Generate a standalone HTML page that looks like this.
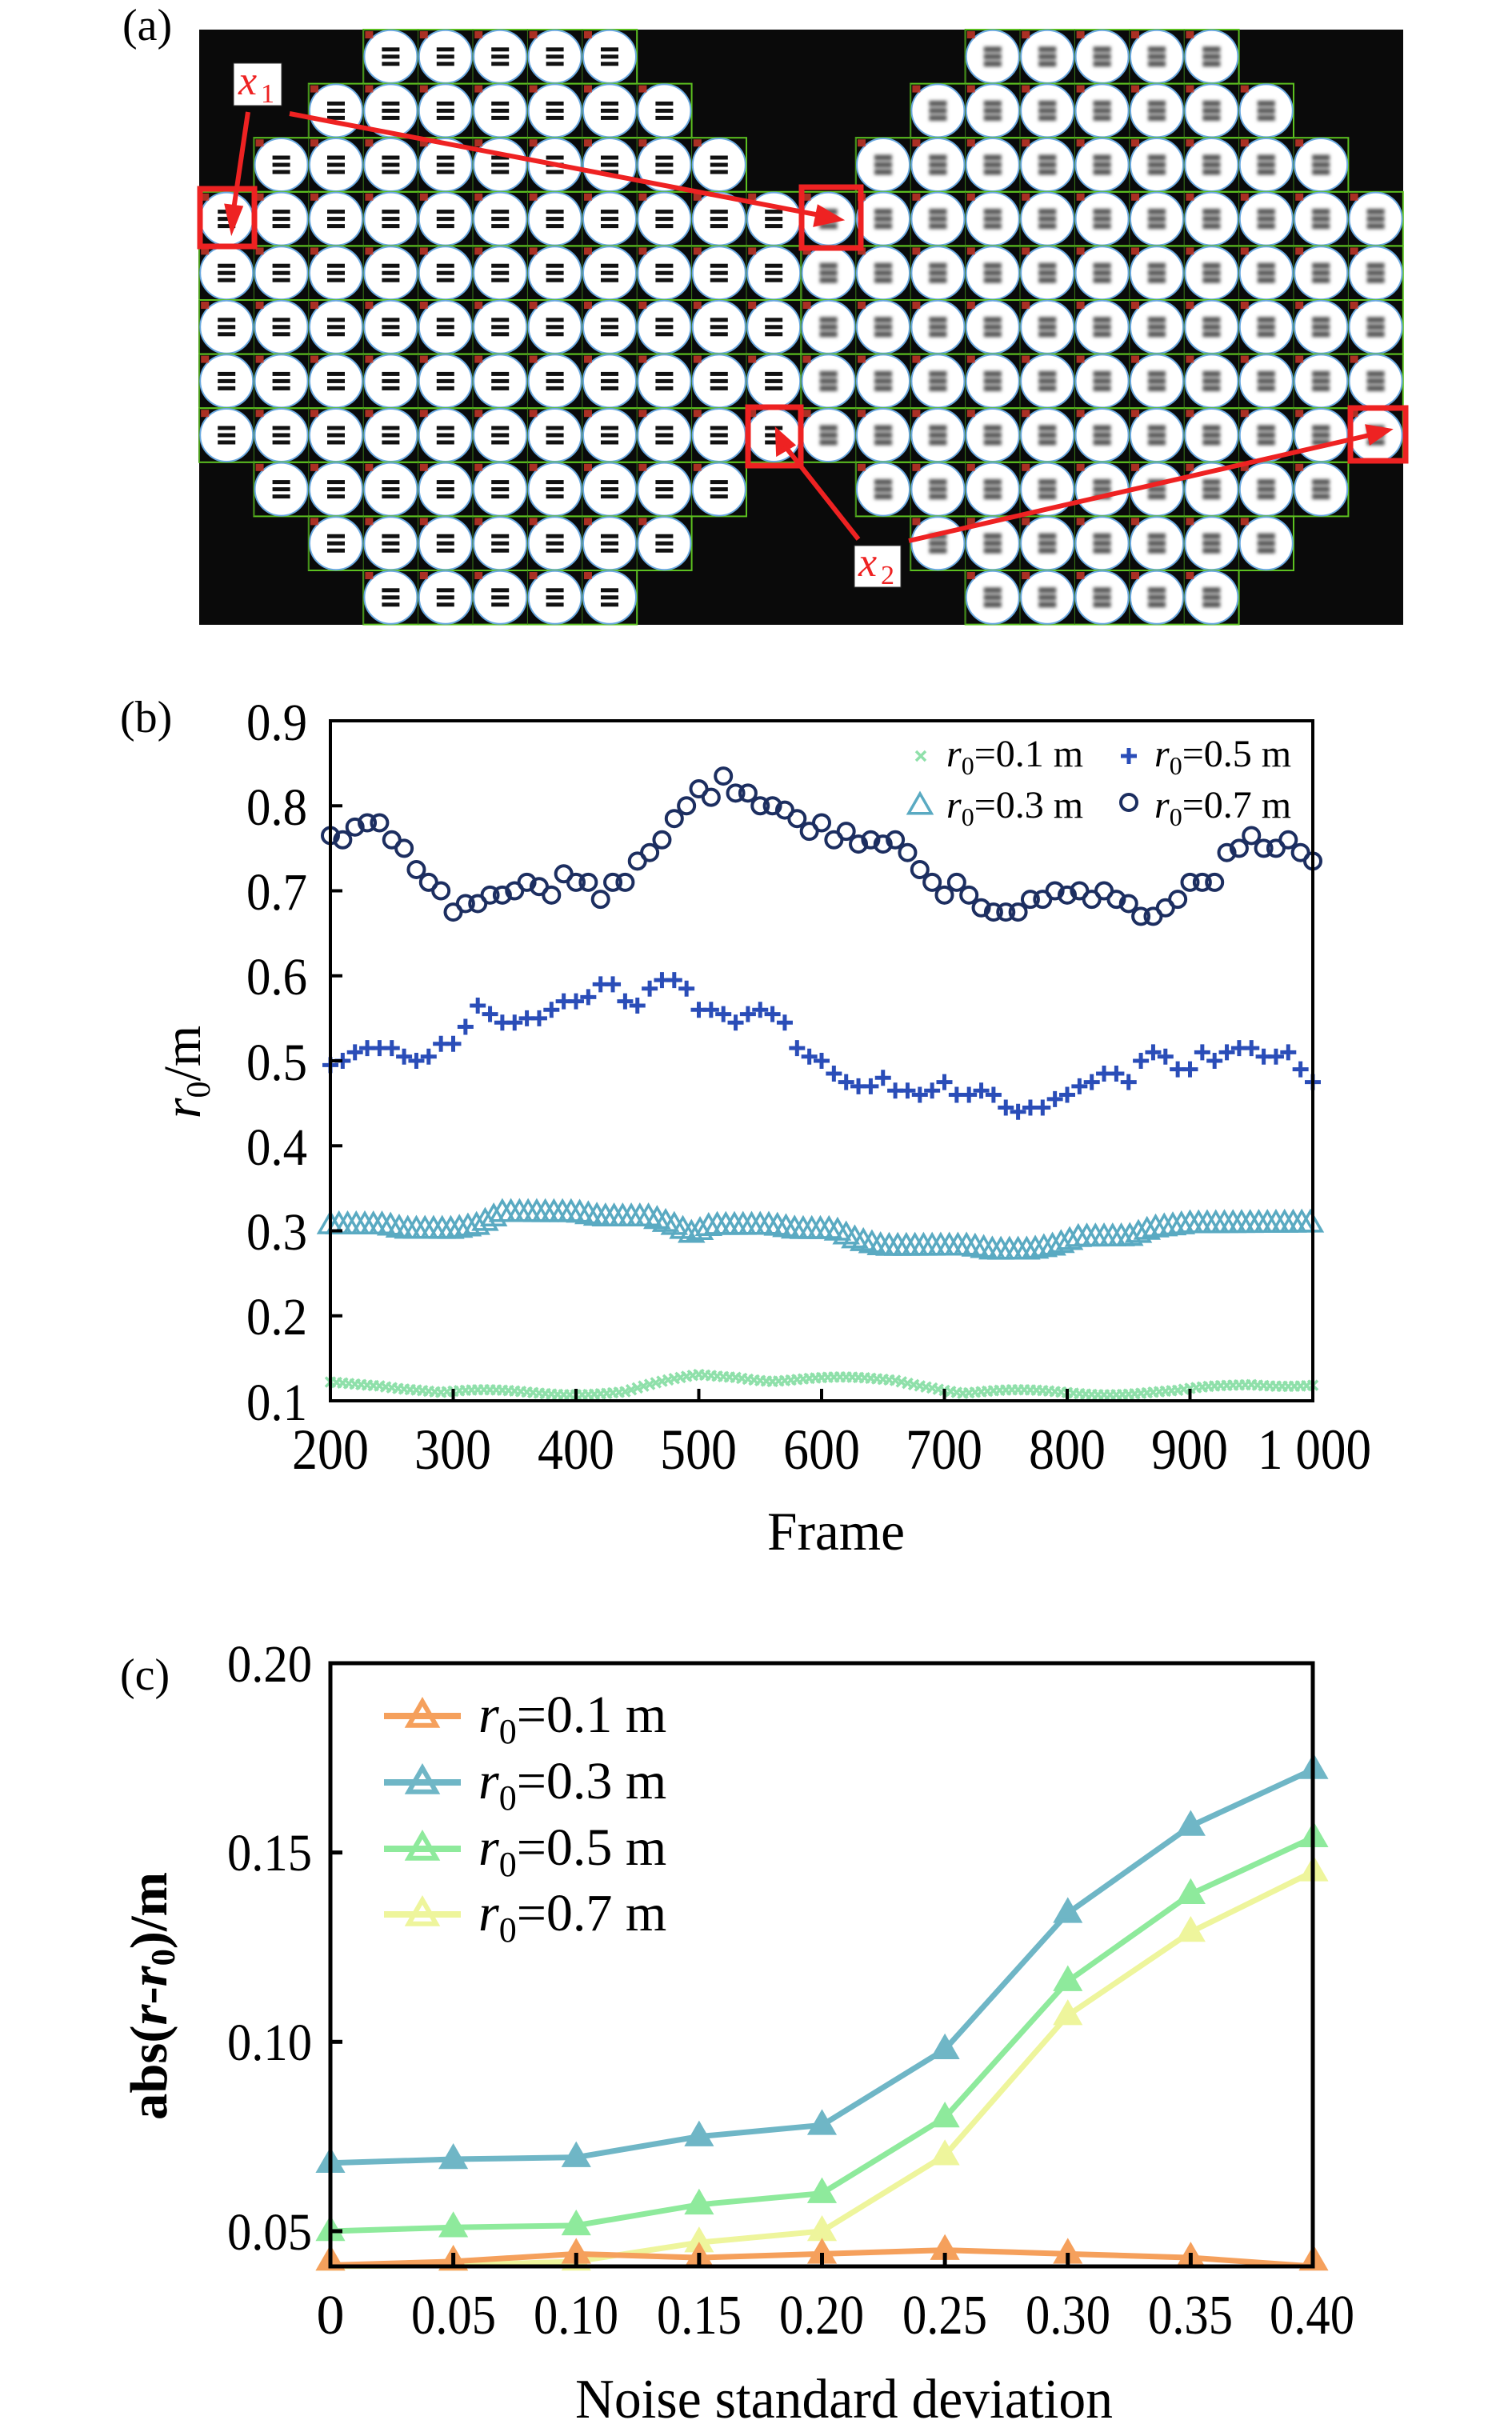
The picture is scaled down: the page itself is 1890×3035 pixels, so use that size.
<!DOCTYPE html>
<html><head><meta charset="utf-8">
<style>
html,body{margin:0;padding:0;background:#fff;}
svg{display:block;}
text{font-family:"Liberation Serif",serif;}
</style></head>
<body>
<svg id="s" width="1890" height="3035" viewBox="0 0 1890 3035" xmlns="http://www.w3.org/2000/svg">
<defs>
<filter id="bl" x="-50%" y="-50%" width="200%" height="200%"><feGaussianBlur stdDeviation="2.2"/></filter>
</defs>
<!-- Panel a -->
<text x="153" y="50" font-size="56">(a)</text>
<rect x="249" y="37" width="1505" height="744" fill="#0a0a0a"/>
<g id="cells"></g>
<g stroke="#ee2222" fill="none" stroke-width="7">
<rect x="250" y="236" width="68" height="72"/>
<rect x="1002" y="234" width="74" height="76"/>
<rect x="935" y="509" width="66" height="73"/>
<rect x="1688" y="510" width="69" height="66"/>
</g>
<g stroke="#ee2222" stroke-width="6" fill="#ee2222">
<line x1="310" y1="140" x2="292" y2="262"/>
<polygon points="284,258 300,260 290,285"/>
<line x1="362" y1="142" x2="1030" y2="270"/>
<polygon points="1024,260 1020,280 1048,274"/>
<line x1="1073" y1="674" x2="983" y2="560"/>
<polygon points="973,566 990,556 972,540"/>
<line x1="1136" y1="676" x2="1716" y2="543"/>
<polygon points="1710,534 1714,552 1734,538"/>
</g>
<rect x="292" y="79" width="60" height="53" fill="#fff" stroke="#333" stroke-width="1"/>
<text x="298" y="118" font-size="52" font-style="italic" fill="#ee2222">x</text>
<text x="326" y="128" font-size="34" fill="#ee2222">1</text>
<rect x="1068" y="682" width="58" height="52" fill="#fff" stroke="#333" stroke-width="1"/>
<text x="1073" y="720" font-size="52" font-style="italic" fill="#ee2222">x</text>
<text x="1101" y="730" font-size="34" fill="#ee2222">2</text>

<!-- Panel b -->
<text x="150" y="915" font-size="56">(b)</text>
<g font-size="66" text-anchor="end">
<text x="384" y="925" textLength="76" lengthAdjust="spacingAndGlyphs">0.9</text>
<text x="384" y="1031" textLength="76" lengthAdjust="spacingAndGlyphs">0.8</text>
<text x="384" y="1137" textLength="76" lengthAdjust="spacingAndGlyphs">0.7</text>
<text x="384" y="1243" textLength="76" lengthAdjust="spacingAndGlyphs">0.6</text>
<text x="384" y="1350" textLength="76" lengthAdjust="spacingAndGlyphs">0.5</text>
<text x="384" y="1456" textLength="76" lengthAdjust="spacingAndGlyphs">0.4</text>
<text x="384" y="1562" textLength="76" lengthAdjust="spacingAndGlyphs">0.3</text>
<text x="384" y="1668" textLength="76" lengthAdjust="spacingAndGlyphs">0.2</text>
<text x="384" y="1775" textLength="76" lengthAdjust="spacingAndGlyphs">0.1</text>
</g>
<g font-size="72" text-anchor="middle">
<text x="413" y="1836" textLength="96" lengthAdjust="spacingAndGlyphs">200</text>
<text x="566" y="1836" textLength="96" lengthAdjust="spacingAndGlyphs">300</text>
<text x="720" y="1836" textLength="96" lengthAdjust="spacingAndGlyphs">400</text>
<text x="873" y="1836" textLength="96" lengthAdjust="spacingAndGlyphs">500</text>
<text x="1027" y="1836" textLength="96" lengthAdjust="spacingAndGlyphs">600</text>
<text x="1180" y="1836" textLength="96" lengthAdjust="spacingAndGlyphs">700</text>
<text x="1334" y="1836" textLength="96" lengthAdjust="spacingAndGlyphs">800</text>
<text x="1487" y="1836" textLength="96" lengthAdjust="spacingAndGlyphs">900</text>
<text x="1643" y="1836" textLength="142" lengthAdjust="spacingAndGlyphs">1 000</text>
</g>
<text x="1045" y="1937" font-size="68" text-anchor="middle" textLength="172" lengthAdjust="spacingAndGlyphs">Frame</text>
<g transform="translate(250,1340) rotate(-90)">
<text x="0" y="0" font-size="66" text-anchor="middle"><tspan font-style="italic">r</tspan><tspan font-size="42" dy="12">0</tspan><tspan dy="-12">/m</tspan></text>
</g>
<g id="bdata"></g>
<rect x="413" y="901" width="1228" height="850" stroke="#000" stroke-width="4" fill="none"/>
<g id="bticks" stroke="#000" stroke-width="4"></g>
<g font-size="48">
<text x="1183" y="958"><tspan font-style="italic">r</tspan><tspan font-size="32" dy="10">0</tspan><tspan dy="-10">=0.1 m</tspan></text>
<text x="1443" y="958"><tspan font-style="italic">r</tspan><tspan font-size="32" dy="10">0</tspan><tspan dy="-10">=0.5 m</tspan></text>
<text x="1183" y="1022"><tspan font-style="italic">r</tspan><tspan font-size="32" dy="10">0</tspan><tspan dy="-10">=0.3 m</tspan></text>
<text x="1443" y="1022"><tspan font-style="italic">r</tspan><tspan font-size="32" dy="10">0</tspan><tspan dy="-10">=0.7 m</tspan></text>
</g>
<g id="bleg"></g>

<!-- Panel c -->
<text x="150" y="2112" font-size="56">(c)</text>
<g font-size="66" text-anchor="end">
<text x="390" y="2102" textLength="106" lengthAdjust="spacingAndGlyphs">0.20</text>
<text x="390" y="2338" textLength="106" lengthAdjust="spacingAndGlyphs">0.15</text>
<text x="390" y="2575" textLength="106" lengthAdjust="spacingAndGlyphs">0.10</text>
<text x="390" y="2812" textLength="106" lengthAdjust="spacingAndGlyphs">0.05</text>
</g>
<g font-size="70" text-anchor="middle">
<text x="413" y="2917">0</text>
<text x="567" y="2917" textLength="106" lengthAdjust="spacingAndGlyphs">0.05</text>
<text x="720" y="2917" textLength="106" lengthAdjust="spacingAndGlyphs">0.10</text>
<text x="874" y="2917" textLength="106" lengthAdjust="spacingAndGlyphs">0.15</text>
<text x="1027" y="2917" textLength="106" lengthAdjust="spacingAndGlyphs">0.20</text>
<text x="1181" y="2917" textLength="106" lengthAdjust="spacingAndGlyphs">0.25</text>
<text x="1335" y="2917" textLength="106" lengthAdjust="spacingAndGlyphs">0.30</text>
<text x="1488" y="2917" textLength="106" lengthAdjust="spacingAndGlyphs">0.35</text>
<text x="1640" y="2917" textLength="106" lengthAdjust="spacingAndGlyphs">0.40</text>
</g>
<text x="1055" y="3022" font-size="70" text-anchor="middle" textLength="672" lengthAdjust="spacingAndGlyphs">Noise standard deviation</text>
<g transform="translate(208,2495) rotate(-90)">
<text x="0" y="0" font-size="66" font-weight="bold" text-anchor="middle" textLength="310" lengthAdjust="spacingAndGlyphs">abs(<tspan font-style="italic">r</tspan>-<tspan font-style="italic">r</tspan><tspan font-size="42" dy="10">0</tspan><tspan dy="-10">)/m</tspan></text>
</g>
<g id="cdata"></g>
<rect x="413" y="2079" width="1228" height="754" stroke="#000" stroke-width="5" fill="none"/>
<g id="cticks" stroke="#000" stroke-width="5"></g>
<g font-size="66">
<text x="598" y="2165"><tspan font-style="italic">r</tspan><tspan font-size="44" dy="14">0</tspan><tspan dy="-14">=0.1 m</tspan></text>
<text x="598" y="2248"><tspan font-style="italic">r</tspan><tspan font-size="44" dy="14">0</tspan><tspan dy="-14">=0.3 m</tspan></text>
<text x="598" y="2331"><tspan font-style="italic">r</tspan><tspan font-size="44" dy="14">0</tspan><tspan dy="-14">=0.5 m</tspan></text>
<text x="598" y="2413"><tspan font-style="italic">r</tspan><tspan font-size="44" dy="14">0</tspan><tspan dy="-14">=0.7 m</tspan></text>
</g>
<g id="cleg"></g>
</svg>
<script>
var NS="http://www.w3.org/2000/svg";
function el(p,t,a){var e=document.createElementNS(NS,t);for(var k in a)e.setAttribute(k,a[k]);p.appendChild(e);return e;}
var cells=document.getElementById('cells');
var rows=[[[3,7],[14,18]],[[2,8],[13,19]],[[1,9],[12,20]],[[0,10],[11,21]],[[0,10],[11,21]],[[0,10],[11,21]],[[0,10],[11,21]],[[0,10],[11,21]],[[1,9],[12,20]],[[2,8],[13,19]],[[3,7],[14,18]]];
var CW=68.4;
rows.forEach(function(r,ri){
  r.forEach(function(rg,bi){
    var x0=249+rg[0]*CW, w=(rg[1]-rg[0]+1)*CW, y0=37+ri*67.6;
    el(cells,'rect',{x:x0,y:y0,width:w,height:67.6,fill:'none',stroke:'#5cc020','stroke-width':2});
    for(var c=rg[0];c<=rg[1];c++){
      var cx=249+CW/2+CW*c, cy=y0+33.8;
      el(cells,'line',{x1:cx-CW/2,y1:y0,x2:cx-CW/2,y2:y0+67.6,stroke:'#3a7a18','stroke-width':1});
      el(cells,'circle',{cx:cx,cy:cy,r:33,fill:'#fff',stroke:'#6aa8e0','stroke-width':2});
      var g=el(cells,'g',bi==1?{filter:'url(#bl)'}:{});
      var col=bi==1?'#555':'#111';
      var bh=bi==1?7:5;
      for(var k=-1;k<=1;k++) el(g,'rect',{x:cx-11,y:cy+k*9-bh/2,width:22,height:bh,fill:col});
      el(cells,'rect',{x:cx-32,y:y0+2,width:10,height:9,fill:'#d23a2a',opacity:0.8});
    }
  });
});
function bx(f){return 413+(f-200)*1.535;}
function by(v){return 901+(0.9-v)*1062.5;}
var circ=[0.765,0.76,0.775,0.78,0.78,0.76,0.75,0.725,0.71,0.70,0.675,0.685,0.685,0.695,0.695,0.70,0.71,0.705,0.695,0.72,0.71,0.71,0.69,0.71,0.71,0.735,0.745,0.76,0.785,0.80,0.82,0.81,0.835,0.815,0.815,0.80,0.80,0.795,0.785,0.77,0.78,0.76,0.77,0.755,0.76,0.755,0.76,0.745,0.725,0.71,0.695,0.71,0.695,0.68,0.675,0.675,0.675,0.69,0.69,0.70,0.695,0.70,0.69,0.70,0.69,0.685,0.67,0.67,0.68,0.69,0.71,0.71,0.71,0.745,0.75,0.765,0.75,0.75,0.76,0.745,0.735];
var plus=[0.495,0.50,0.51,0.515,0.515,0.515,0.505,0.50,0.505,0.52,0.52,0.54,0.565,0.555,0.545,0.545,0.55,0.55,0.56,0.57,0.57,0.575,0.59,0.59,0.57,0.565,0.585,0.595,0.595,0.585,0.56,0.56,0.555,0.545,0.555,0.56,0.555,0.545,0.515,0.505,0.50,0.485,0.475,0.47,0.47,0.48,0.465,0.465,0.46,0.465,0.475,0.46,0.46,0.465,0.46,0.445,0.44,0.445,0.445,0.455,0.46,0.47,0.475,0.485,0.485,0.475,0.50,0.51,0.505,0.49,0.49,0.51,0.50,0.51,0.515,0.515,0.505,0.505,0.51,0.49,0.475];
function interp(k,f){for(var i=0;i<k.length-1;i++){if(f>=k[i][0]&&f<=k[i+1][0]){var t=(f-k[i][0])/(k[i+1][0]-k[i][0]);return k[i][1]+t*(k[i+1][1]-k[i][1]);}}return k[k.length-1][1];}
var TK=[[200,.31],[245,.31],[260,.305],[300,.305],[320,.31],[340,.325],[400,.325],[420,.32],[460,.32],[480,.31],[495,.30],[510,.31],[560,.31],[580,.305],[610,.305],[630,.292],[650,.285],[720,.285],[740,.28],[770,.28],[790,.285],[810,.295],[850,.295],[870,.305],[900,.31],[1000,.31]];
var XK=[[200,.12],[240,.12],[270,.115],[290,.11],[440,.11],[470,.12],[500,.13],[530,.13],[560,.125],[660,.125],[690,.118],[715,.11],[890,.11],[920,.115],[950,.12],[1000,.12]];
var bd=document.getElementById('bdata');
function xmark(p,x,y,s,c,w){el(p,'path',{d:'M'+(x-s)+' '+(y-s)+'L'+(x+s)+' '+(y+s)+'M'+(x-s)+' '+(y+s)+'L'+(x+s)+' '+(y-s),stroke:c,'stroke-width':w,fill:'none'});}
function pmark(p,x,y,s,c,w){el(p,'path',{d:'M'+(x-s)+' '+y+'L'+(x+s)+' '+y+'M'+x+' '+(y-s)+'L'+x+' '+(y+s),stroke:c,'stroke-width':w,fill:'none'});}
function tmark(p,x,y,s,c,w,fill){el(p,'polygon',{points:x+','+(y-s)+' '+(x-s*0.95)+','+(y+s*0.65)+' '+(x+s*0.95)+','+(y+s*0.65),stroke:c,'stroke-width':w,fill:fill||'none'});}
for(var f=200;f<=1000;f+=5){var v=interp(XK,f)+0.003*Math.sin(f*1.3);xmark(bd,bx(f),by(v),6,'#8fe0aa',3.5);}
for(var f=200;f<=1000;f+=7){var v=interp(TK,f)+0.004*Math.sin(f*0.9);tmark(bd,bx(f),by(v),15,'#5aaac2',3.5);}
for(var i=0;i<81;i++){pmark(bd,bx(200+10*i),by(plus[i]),10,'#2a4db8',5);}
for(var i=0;i<81;i++){el(bd,'circle',{cx:bx(200+10*i),cy:by(circ[i]),r:10,fill:'none',stroke:'#1c2e60','stroke-width':4});}
var bt=document.getElementById('bticks');
for(var i=1;i<8;i++){var y=901+i*106.25;el(bt,'line',{x1:413,y1:y,x2:428,y2:y});}
for(var i=1;i<8;i++){var x=413+i*153.5;el(bt,'line',{x1:x,y1:1751,x2:x,y2:1736});}
var bl=document.getElementById('bleg');
xmark(bl,1151,945,6,'#8fe0aa',3.5);pmark(bl,1411,945,10,'#2a4db8',5);
tmark(bl,1150,1007,15,'#5aaac2',3.5);el(bl,'circle',{cx:1411,cy:1003,r:10,fill:'none',stroke:'#1c2e60','stroke-width':4});
function cx(v){return 413+v*3072.5;}
function cy(v){return 2079+(0.20-v)*4733;}
var ser=[
 ['#f5a05c',[0.041,0.042,0.044,0.043,0.044,0.045,0.044,0.043,0.038]],
 ['#6fb6c6',[0.068,0.069,0.0695,0.075,0.078,0.098,0.134,0.157,0.172]],
 ['#8eea9c',[0.050,0.051,0.0515,0.057,0.060,0.080,0.116,0.139,0.154]],
 ['#eef59c',[0.040,0.041,0.042,0.047,0.050,0.070,0.107,0.129,0.145]]];
var cd=document.getElementById('cdata');
[3,0,2,1].forEach(function(si){
  var s=ser[si],pts=[];
  for(var i=0;i<9;i++)pts.push(cx(i*0.05)+','+Math.min(2833,cy(s[1][i])));
  el(cd,'polyline',{points:pts.join(' '),fill:'none',stroke:s[0],'stroke-width':7});
  for(var i=0;i<9;i++)tmark(cd,cx(i*0.05),Math.min(2826,cy(s[1][i])),15,s[0],5,s[0]);
});
var ct=document.getElementById('cticks');
[0.05,0.10,0.15].forEach(function(v){el(ct,'line',{x1:413,y1:cy(v),x2:428,y2:cy(v)});});
for(var i=1;i<8;i++){var x=cx(i*0.05);el(ct,'line',{x1:x,y1:2833,x2:x,y2:2816});}
var cl=document.getElementById('cleg');
[2145,2228,2311,2393].forEach(function(y,i){var c=ser[i][0];el(cl,'line',{x1:480,y1:y,x2:576,y2:y,stroke:c,'stroke-width':8});tmark(cl,528,y,18,c,6,'none');});
</script>
</body></html>
